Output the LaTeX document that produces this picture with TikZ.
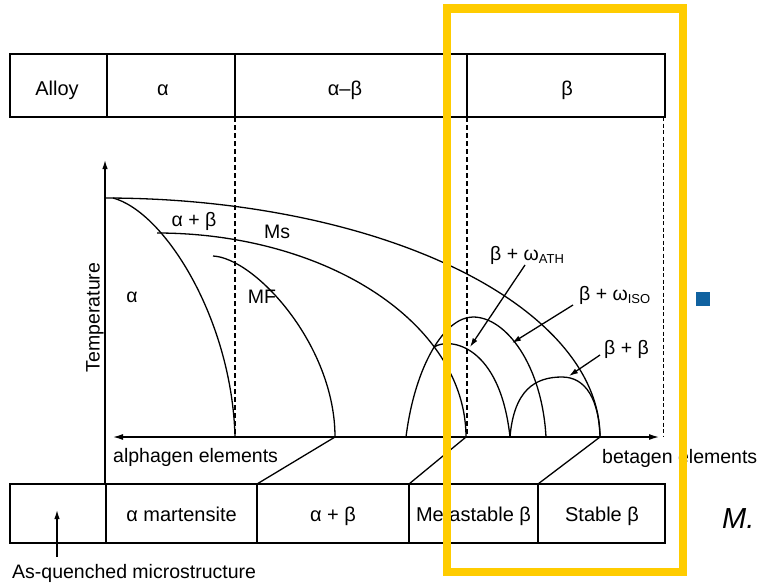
\documentclass[tikz,border=0pt]{standalone}
\usepackage{fontspec}
\setmainfont{Liberation Sans}
\usetikzlibrary{arrows.meta,intersections}
\definecolor{hlyellow}{RGB}{255,204,0}
\definecolor{sqblue}{RGB}{16,98,160}
\newcommand\subtxt[1]{\raisebox{-3pt}{\fontsize{13}{13}\selectfont #1}}
\begin{document}
\begin{tikzpicture}[x=1pt,y=-1pt,
  box/.style={draw=black,line width=1.4pt},
  curve/.style={line width=1.3pt},
  axisline/.style={line width=1.3pt},
  dashline/.style={line width=1.4pt,dash pattern=on 5pt off 3pt},
  thindash/.style={line width=0.9pt,dash pattern=on 4pt off 2.5pt},
  lbl/.style={font=\fontsize{19.5}{22}\selectfont,inner sep=0pt},
  tlbl/.style={font=\fontsize{20}{22}\selectfont,inner sep=0pt},
  tip/.style={-{Latex[length=9pt,width=5.5pt]}},
  dtip/.style={{Latex[length=10pt,width=6pt]}-{Latex[length=10pt,width=6pt]}}]
\useasboundingbox (0,0) rectangle (762,583);

% ---------- top table
\coordinate (ttl) at (10,54);
\coordinate (tbr) at (665,117);
\draw[box] (ttl) rectangle (tbr);
\foreach \xx in {107,235,467} \draw[box] (\xx,54) -- (\xx,117);
\node[tlbl,anchor=base] (alloy) at (57,95.5) {Alloy};
\node[tlbl,anchor=base] (ta) at (163,95.5) {α};
\node[tlbl,anchor=base] (tab) at (345,95.5) {α–β};
\node[tlbl,anchor=base] (tb) at (567,95.5) {β};

% ---------- dashed boundaries
\draw[dashline] (235,117) -- (235,437);
\draw[dashline] (467,117) -- (467,437);
\draw[thindash] (663,117) -- (663,437);

% ---------- axes
\coordinate (vbot) at (105,484);
\coordinate (vtop) at (105,160);
\draw[axisline,tip] (vbot) -- (vtop);
\coordinate (hl) at (113,437);
\coordinate (hr) at (659,437);
\draw[axisline,dtip] (hl) -- (hr);

% ---------- curves
\draw[curve,name path=outer] plot[domain=0:90,samples=80,smooth]
  ({105+495*cos(\x)},{437-239*sin(\x)});
\draw[curve,name path=msl] plot[domain=0:90,samples=80,smooth]
  ({157+309*cos(\x)},{437-204*sin(\x)});
\draw[curve] (113,198) .. controls (165,212) and (232,320) .. (235,437);
\draw[curve] (213,256) .. controls (255,258) and (335,345) .. (335,437);
\draw[curve,name path=dome] (406,437) .. controls (415,365) and (445,317) .. (473,317)
  .. controls (506,317) and (542,365) .. (546,437);
\path[name intersections={of=msl and dome,by={X}}];
\draw[curve] (X) .. controls (450,337) and (500,345) .. (510,437);
\draw[curve] (510,437) .. controls (514,390) and (535,377) .. (562,377)
  .. controls (586,377) and (599,400) .. (600,437);

% ---------- links to bottom table
\draw[curve] (335,437) -- (257,484);
\draw[curve] (466,437) -- (409,484);
\draw[curve] (600,437) -- (538,484);

% ---------- plot labels
\node[lbl,anchor=base] (la) at (132,302) {α};
\node[lbl,anchor=base] (lab) at (194,226) {α + β};
\node[lbl,anchor=base] (lms) at (277,238) {Ms};
\node[lbl,anchor=base] (lmf) at (262,303) {MF};
\node[lbl,anchor=base,rotate=90] (temp) at (99.5,317.5) {Temperature};
\node[lbl,anchor=base west] (ath) at (490,260) {β + ω\subtxt{ATH}};
\node[lbl,anchor=base west] (iso) at (579,300) {β + ω\subtxt{ISO}};
\node[lbl,anchor=base west] (bb) at (604,354) {β + β};
\coordinate (athS) at (525,265); \coordinate (athT) at (470,347);
\coordinate (isoS) at (573,305); \coordinate (isoT) at (512,343);
\coordinate (bbS) at (600,355);  \coordinate (bbT) at (569,376);
\draw[curve,tip] (athS) -- (athT);
\draw[curve,tip] (isoS) -- (isoT);
\draw[curve,tip] (bbS) -- (bbT);
\node[lbl,anchor=base west] (alg) at (113,462.5) {alphagen elements};
\node[lbl,anchor=base west] (beg) at (602,463) {betagen elements};

% ---------- bottom table
\draw[box] (10,484) rectangle (665,543);
\foreach \xx in {106,257,409,538} \draw[box] (\xx,484) -- (\xx,543);
\node[tlbl,anchor=base] (am) at (181.5,521.5) {α martensite};
\node[tlbl,anchor=base] (apb) at (333,521.5) {α + β};
\node[tlbl,anchor=base] (meta) at (473.5,521.5) {Metastable β};
\node[tlbl,anchor=base] (stab) at (602,521.5) {Stable β};
\coordinate (aqS) at (57,557); \coordinate (aqT) at (57,510);
\draw[line width=1.3pt,tip] (aqS) -- (aqT);
\node[lbl,anchor=base west] (aq) at (12,578) {As-quenched microstructure};

% ---------- overlay
\draw[hlyellow,line width=8.3pt] (447,8.5) rectangle (683,572);
\fill[sqblue] (696,292) rectangle (710,306);
\node[inner sep=0pt,anchor=base west,font=\fontsize{29}{32}\selectfont\itshape] (mm) at (722,528) {M.};
\end{tikzpicture}
\end{document}
